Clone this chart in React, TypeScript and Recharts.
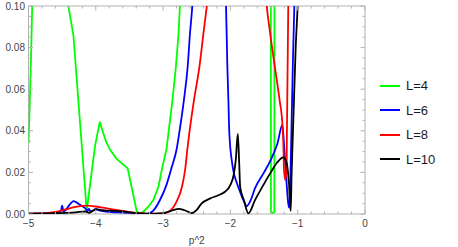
import React from 'react';
import { LineChart, Line, XAxis, YAxis, ReferenceArea, Legend } from 'recharts';

// ---- data ----
const seriesNames = ['L=4', 'L=6', 'L=8', 'L=10'];
const seriesColors = ['#00ff00', '#0000ff', '#ff0000', '#000000'];

const l4x = [-5.0, -4.98, -4.963, -4.945, -4.92, -4.54, -4.408, -4.333, -4.135, -4.01, -3.94, -3.91, -3.85, -3.79, -3.69, -3.6, -3.527, -3.39, -3.34, -3.29, -3.22, -3.146, -3.07, -3.01, -2.95, -2.92, -2.86, -2.81, -2.77, -2.75, -2.72, -1.4, -1.397, -1.37, -1.347, -1.345, -1.33];
const l4y = [0.034, 0.055, 0.074, 0.1, 0.13, 0.125, 0.1, 0.086, 0.0015, 0.033, 0.0444, 0.041, 0.035, 0.031, 0.0265, 0.024, 0.022, 0.001, 0.0003, 0.0012, 0.0035, 0.0067, 0.013, 0.0227, 0.031, 0.039, 0.055, 0.0708, 0.087, 0.1, 0.12, 0.12, 0.001, 0.0005, 0.001, 0.12, 0.15];

const l6x = [-5, -4.75, -4.58, -4.52, -4.5, -4.48, -4.45, -4.4, -4.33, -4.25, -4.16, -4.12, -4.1, -4.08, -4.04, -4.0, -3.95, -3.85, -3.6, -3.4, -3.24, -3.15, -3.05, -2.95, -2.87, -2.8, -2.76, -2.69, -2.635, -2.6, -2.566, -2.54, -2.09, -2.065, -2.045, -2.03, -2.016, -1.966, -1.9, -1.857, -1.8, -1.758, -1.7, -1.634, -1.5, -1.4, -1.3, -1.228, -1.2, -1.17, -1.14, -1.125, -1.11, -1.09, -1.07, -1.05, -1.03];
const l6y = [0.0002, 0.0003, 0.0008, 0.0012, 0.004, 0.0012, 0.0018, 0.004, 0.0062, 0.0048, 0.0028, 0.0016, 0.0025, 0.0011, 0.0016, 0.0024, 0.0017, 0.0012, 0.0007, 0.0004, 0.0001, 0.0015, 0.0065, 0.014, 0.0227, 0.031, 0.039, 0.055, 0.0708, 0.087, 0.1, 0.115, 0.115, 0.1, 0.0708, 0.055, 0.0388, 0.0227, 0.0145, 0.0107, 0.0062, 0.0038, 0.0065, 0.0124, 0.02, 0.026, 0.034, 0.0428, 0.032, 0.017, 0.005, 0.003, 0.015, 0.045, 0.075, 0.1, 0.13];

const l8x = [-5, -4.75, -4.6, -4.45, -4.3, -4.12, -4.0, -3.85, -3.7, -3.55, -3.4, -3.2, -3.0, -2.9, -2.8, -2.72, -2.67, -2.64, -2.61, -2.54, -2.46, -2.4, -2.35, -2.3, -1.5, -1.46, -1.41, -1.34, -1.27, -1.225, -1.21, -1.205, -1.185, -1.165, -1.16, -1.15, -1.14, -1.13];
const l8y = [0.0002, 0.0004, 0.001, 0.0022, 0.0034, 0.004, 0.0036, 0.0028, 0.002, 0.0012, 0.0005, 0.0001, 0.0003, 0.0015, 0.006, 0.013, 0.022, 0.031, 0.039, 0.055, 0.0708, 0.087, 0.1, 0.115, 0.115, 0.1, 0.087, 0.0708, 0.055, 0.042, 0.03, 0.022, 0.0163, 0.022, 0.04, 0.07, 0.1, 0.13];

const l10x = [-5, -4.6, -4.3, -4.15, -4.1, -4.05, -3.98, -3.9, -3.8, -3.6, -3.45, -3.3, -3.1, -2.95, -2.85, -2.77, -2.68, -2.575, -2.5, -2.43, -2.3, -2.18, -2.08, -2.0, -1.95, -1.92, -1.89, -1.87, -1.855, -1.8, -1.733, -1.634, -1.5, -1.4, -1.3, -1.214, -1.163, -1.13, -1.104, -1.09, -1.06, -1.03, -1.0, -0.98];
const l10y = [0.0002, 0.0004, 0.0008, 0.0012, 0.0006, 0.0015, 0.0022, 0.0018, 0.0016, 0.0012, 0.0006, 0.0002, 0.0002, 0.0008, 0.0018, 0.0025, 0.0018, 0.0004, 0.002, 0.005, 0.0075, 0.009, 0.0107, 0.014, 0.019, 0.026, 0.0385, 0.025, 0.013, 0.0067, 0.0003, 0.0067, 0.0145, 0.02, 0.025, 0.0272, 0.0244, 0.0148, 0.0015, 0.02, 0.05, 0.08, 0.1, 0.115];

const xMajorTicks = [-5, -4, -3, -2, -1, 0];
const xTickLabels = ['\u22125', '\u22124', '\u22123', '\u22122', '\u22121', '0'];
const yMajorTicks = [0, 0.02, 0.04, 0.06, 0.08, 0.1];
const yTickLabels = ['0.00', '0.02', '0.04', '0.06', '0.08', '0.10'];
const xMinorStep = 0.2;
const yMinorStep = 0.005;
const xAxisTitle = 'p^2';

// ---- layout/style ----
const W = 458;
const H = 247;
const PLOT_LEFT = 28.5;
const PLOT_RIGHT = 365;
const PLOT_TOP = 6;
const PLOT_BOTTOM = 214;
const PLOT_W = PLOT_RIGHT - PLOT_LEFT;
const PLOT_H = PLOT_BOTTOM - PLOT_TOP;
const FRAME = '#b2b2b2';
const LABEL = '#444444';
const FONT = '"Liberation Sans", Arial, sans-serif';
const MAJOR = 4.5;
const MINOR = 2.5;

const toData = (xs: number[], ys: number[]) => xs.map((x, i) => ({ x, y: ys[i] }));
const seriesData = [toData(l4x, l4y), toData(l6x, l6y), toData(l8x, l8y), toData(l10x, l10y)];
const seriesTypes: any[] = ['linear', 'monotone', 'monotone', 'monotone'];

const xTicks: number[] = [];
for (let v = -5; v <= 1e-9; v += xMinorStep) xTicks.push(Math.round(v * 1e6) / 1e6);
const yTicks: number[] = [];
for (let v = 0; v <= 0.1 + 1e-9; v += yMinorStep) yTicks.push(Math.round(v * 1e6) / 1e6);

const XTick = (props: any) => {
  const { x, y, payload } = props;
  const v = payload.value;
  const idx = xMajorTicks.findIndex((m) => Math.abs(m - v) < 1e-6);
  const len = idx >= 0 ? MAJOR : MINOR;
  return (
    <g>
      <line x1={x} x2={x} y1={y} y2={y - len} stroke={FRAME} />
      <line x1={x} x2={x} y1={y - PLOT_H} y2={y - PLOT_H + len} stroke={FRAME} />
      {idx >= 0 && (
        <text x={x} y={y + 12.5} textAnchor="middle" fontSize={10} fontFamily={FONT} fill={LABEL}>
          {xTickLabels[idx]}
        </text>
      )}
    </g>
  );
};

const YTick = (props: any) => {
  const { x, y, payload } = props;
  const v = payload.value;
  const idx = yMajorTicks.findIndex((m) => Math.abs(m - v) < 1e-7);
  const len = idx >= 0 ? MAJOR : MINOR;
  return (
    <g>
      <line x1={x} x2={x + len} y1={y} y2={y} stroke={FRAME} />
      <line x1={x + PLOT_W} x2={x + PLOT_W - len} y1={y} y2={y} stroke={FRAME} />
      {idx >= 0 && (
        <text x={x - 3.5} y={y + 3.6} textAnchor="end" fontSize={10} fontFamily={FONT} fill={LABEL}>
          {yTickLabels[idx]}
        </text>
      )}
    </g>
  );
};

const LegendContent = (props: any) => {
  const { payload } = props;
  const items = [...(payload || [])].sort(
    (a: any, b: any) => seriesNames.indexOf(a.value) - seriesNames.indexOf(b.value)
  );
  return (
    <div style={{ fontFamily: FONT, fontSize: 13, color: '#1a1a1a' }}>
      {items.map((p: any, i: number) => (
        <div key={i} style={{ height: 24.5, display: 'flex', alignItems: 'center' }}>
          <svg width={26} height={4} style={{ display: 'block' }}>
            <line x1={0} x2={20} y1={2} y2={2} stroke={p.color} strokeWidth={2} />
          </svg>
          <span style={{ lineHeight: '13px' }}>{p.value}</span>
        </div>
      ))}
    </div>
  );
};

export default function App() {
  return (
    <div style={{ position: 'absolute', left: 0, top: 0, width: W, height: H, background: '#fff' }}>
      <LineChart width={W} height={H} margin={{ top: PLOT_TOP, right: W - PLOT_RIGHT, bottom: 0, left: 0 }}>
        <XAxis
          type="number"
          dataKey="x"
          domain={[-5, 0]}
          ticks={xTicks}
          interval={0}
          allowDataOverflow
          height={H - PLOT_BOTTOM}
          tickSize={0}
          tickMargin={0}
          tickLine={false}
          axisLine={false}
          tick={<XTick />}
          label={{ value: xAxisTitle, position: 'insideBottom', offset: 3, fontSize: 10, fontFamily: FONT, fill: LABEL }}
        />
        <YAxis
          type="number"
          domain={[0, 0.1]}
          ticks={yTicks}
          interval={0}
          allowDataOverflow
          width={PLOT_LEFT}
          tickSize={0}
          tickMargin={0}
          tickLine={false}
          axisLine={false}
          tick={<YTick />}
        />
        <ReferenceArea x1={-5} x2={0} y1={0} y2={0.1} fill="none" fillOpacity={0} stroke={FRAME} strokeWidth={1} />
        {seriesData.map((d, i) => (
          <Line
            key={seriesNames[i]}
            data={d}
            dataKey="y"
            name={seriesNames[i]}
            type={seriesTypes[i]}
            stroke={seriesColors[i]}
            strokeWidth={1.8}
            dot={false}
            activeDot={false}
            legendType="line"
            isAnimationActive={false}
          />
        ))}
        <Legend
          layout="horizontal"
          align="center"
          verticalAlign="middle"
          itemSorter={null as any}
          content={<LegendContent />}
          wrapperStyle={{ left: 380, top: 73.5, width: 78 }}
        />
      </LineChart>
    </div>
  );
}
